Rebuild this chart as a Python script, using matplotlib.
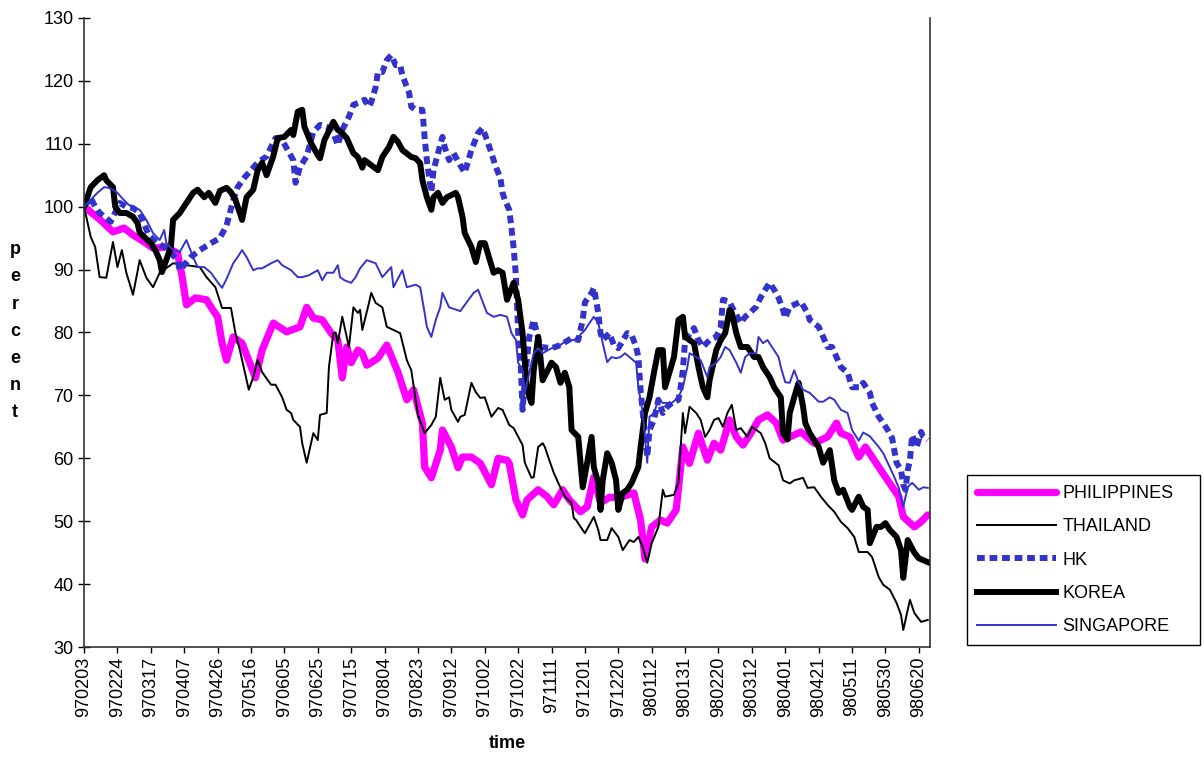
import matplotlib
matplotlib.use("Agg")
import matplotlib.pyplot as plt

plt.rcParams['font.family'] = ['Liberation Sans', 'DejaVu Sans']

# trading-day labels, one every 15 observations
TICK_LABELS = ["970203", "970224", "970317", "970407", "970426", "970516",
               "970605", "970625", "970715", "970804", "970823", "970912",
               "971002", "971022", "971111", "971201", "971220", "980112",
               "980131", "980220", "980312", "980401", "980421", "980511",
               "980530", "980620"]
N_DAYS = 381

# index levels (start = 100), observation number -> percent
PHIL_DAYS = [0, 7, 13, 18, 22, 27, 31, 37, 42, 44, 46, 50, 55, 58, 60, 62, 64, 67, 71, 77,
             80, 85, 91, 97, 100, 103, 107, 111, 114, 116, 118, 120, 123, 125, 127, 132, 136, 141, 145, 148,
             152, 153, 156, 160, 161, 165, 168, 170, 174, 178, 183, 186, 190, 191, 194, 197, 199, 204, 208, 211,
             215, 218, 223, 226, 229, 232, 236, 241, 247, 250, 252, 255, 259, 262, 266, 269, 272, 276, 280, 283,
             286, 290, 293, 296, 299, 303, 307, 311, 314, 322, 328, 334, 338, 340, 344, 348, 351, 357, 361, 366,
             368, 373, 376, 379]
PHIL_VALS = [100, 98, 96, 96.6, 95.5, 94.4, 93.4, 93.6, 92.6, 89, 84.4, 85.5, 85.2, 83.5, 82.5, 78.3, 75.6, 79.3, 78.3, 72.8,
             77.2, 81.5, 80.1, 80.9, 84, 82.3, 82, 79.9, 78.8, 72.8, 77.7, 75.2, 77.2, 76.7, 74.8, 75.9, 78, 73.7, 69.3, 70.9,
             65.6, 58.6, 56.9, 61.3, 64.5, 61.8, 58.5, 60.2, 60.2, 59.2, 55.8, 60, 59.7, 59.2, 53.4, 51, 53.4, 55, 53.9, 52.6,
             55, 53.4, 51.5, 52.3, 57, 52.9, 53.8, 53.8, 54.5, 50.2, 44, 49.1, 50.2, 49.7, 51.8, 61.8, 59.2, 64, 59.7, 62.4,
             61.3, 66.1, 63.4, 62.1, 63.7, 66.1, 66.9, 65.6, 62.9, 64.2, 62.4, 63.4, 65.6, 64, 63.4, 60.2, 61.8, 58.6, 56.5, 53.9,
             50.7, 49.1, 49.9, 51]

THAI_DAYS = [0, 3, 5, 7, 10, 13, 15, 17, 19, 22, 25, 28, 31, 34, 40, 46, 52, 55, 59, 62,
             66, 68, 70, 71, 74, 76, 78, 80, 84, 86, 89, 91, 93, 94, 97, 98, 100, 103, 105, 106,
             109, 110, 112, 113, 114, 116, 119, 121, 123, 124, 125, 128, 129, 131, 134, 136, 139, 142, 145, 147,
             149, 150, 153, 156, 158, 160, 162, 164, 165, 168, 169, 171, 174, 176, 178, 180, 183, 186, 188, 191,
             193, 197, 198, 201, 202, 204, 206, 207, 209, 211, 213, 216, 219, 220, 221, 224, 225, 229, 231, 232,
             235, 237, 240, 242, 245, 247, 249, 251, 253, 255, 258, 260, 261, 265, 267, 269, 270, 272, 275, 277,
             279, 281, 283, 285, 287, 289, 291, 293, 295, 298, 300, 302, 304, 306, 308, 312, 314, 317, 319, 323,
             325, 328, 331, 334, 337, 340, 343, 346, 348, 352, 354, 357, 359, 362, 365, 367, 368, 371, 373, 376,
             379]
THAI_VALS = [100, 95.2, 93.6, 88.8, 88.7, 94.4, 90.4, 93.1, 89.5, 86, 91.5, 88.7, 87.2, 89.5, 91, 90.7, 90.4, 88.8, 87.2, 83.9,
             83.9, 79.9, 77.2, 75.6, 70.9, 72.9, 75.6, 73.7, 71.7, 71.7, 69.7, 67.7, 67.2, 66.1, 65, 62.4, 59.3, 64, 62.9, 66.9,
             67.2, 74.5, 79.9, 80, 78.3, 82.5, 77.7, 84, 83.1, 83.6, 80.4, 84.7, 86.3, 84.7, 84, 80.9, 80.4, 79.9, 75.6, 74,
             69.3, 66.9, 64, 65.3, 66.6, 72.8, 69.3, 69.7, 67.7, 65.8, 66.6, 66.9, 72, 70.5, 69.6, 69.7, 66.6, 68, 67.7, 65.3,
             64.8, 62.1, 59.3, 56.9, 57, 61.8, 62.4, 61.8, 59.7, 57.7, 56.1, 53.9, 52.9, 50.5, 50.2, 48.6, 48.1, 50.7, 48.6, 47,
             47, 48.9, 47.5, 45.4, 47, 46.7, 47.5, 45.9, 43.4, 46.5, 49.1, 55, 53.9, 54.2, 56.1, 67.2, 64, 68.2, 67.2, 66.1,
             63.4, 64.5, 66.1, 66.4, 65, 67.2, 68.5, 64.5, 64.8, 63.4, 65, 64.5, 64, 62.4, 60, 58.9, 56.5, 56, 56.5, 56.9,
             55.3, 55.4, 53.9, 52.6, 51.5, 49.9, 48.9, 47.5, 45.1, 45.1, 44.3, 41.1, 39.9, 39.1, 37, 35.1, 32.7, 37.5, 35.4, 34,
             34.3]

HK_DAYS = [0, 3, 5, 7, 12, 16, 19, 22, 25, 29, 33, 37, 42, 43, 48, 52, 58, 61, 64, 67,
           69, 72, 76, 78, 82, 86, 89, 91, 94, 95, 97, 100, 102, 103, 106, 109, 112, 114, 116, 119,
           121, 124, 126, 128, 129, 131, 132, 134, 136, 138, 140, 142, 143, 146, 147, 149, 152, 153, 154, 155,
           156, 157, 159, 161, 162, 164, 166, 169, 171, 174, 177, 179, 181, 183, 185, 187, 188, 189, 191, 192,
           193, 194, 195, 196, 197, 198, 200, 202, 205, 210, 214, 219, 222, 224, 225, 228, 229, 230, 231, 232,
           233, 236, 238, 240, 244, 246, 248, 249, 250, 251, 253, 254, 256, 258, 260, 262, 264, 267, 268, 269,
           270, 274, 276, 278, 281, 284, 286, 287, 290, 291, 295, 297, 299, 302, 304, 306, 308, 310, 312, 314,
           315, 317, 322, 325, 326, 330, 332, 334, 336, 338, 340, 343, 345, 349, 350, 353, 354, 357, 359, 361,
           363, 365, 367, 368, 369, 370, 371, 372, 374, 376, 377, 379]
HK_VALS = [100, 101.4, 100, 99, 97.6, 100.6, 100, 99.8, 99, 95.5, 94.2, 93.4, 91.5, 89.9, 92, 93.1, 94.4, 95, 97, 101,
           103.1, 104.6, 106.2, 107, 108, 110.9, 110.6, 109.3, 107.4, 103.8, 106.3, 108, 110.6, 111.9, 113, 112.7, 111.7, 109.8, 112.2, 114.3,
           116.2, 116.6, 117, 115.9, 116.6, 119, 121.4, 121.4, 123.3, 124.1, 122.5, 122.5, 120.9, 118.1, 115.9, 115.4, 115.4, 111, 107.4, 104.7,
           102.3, 105.8, 108.5, 111.1, 109.5, 107.4, 108.5, 106.6, 105.4, 109, 111.7, 112.5, 110.6, 108.5, 106.3, 104.6, 102.2, 101.1, 99.5, 96.6,
           93.4, 89, 80, 76.1, 67.7, 72.4, 79.3, 82, 77.7, 77.5, 78, 79.1, 78.8, 82, 84.8, 86.3, 87.1, 85.2, 83.1, 79.9,
           78.8, 79.9, 78, 77.5, 79.9, 79.6, 77.7, 76.1, 70.9, 67.2, 60.2, 64.5, 66.1, 69.3, 67.2, 68.2, 68.8, 69.3, 71.3, 74,
           78.8, 80.7, 78.8, 77.7, 78.8, 79.3, 80.9, 85.2, 84.9, 84.1, 81.5, 82.5, 83.1, 84.1, 85.6, 86.8, 87.9, 86.8, 85.5, 83.6,
           82.3, 84.1, 84.9, 83.1, 82, 80.9, 79.3, 77.7, 77.7, 76.1, 74.5, 73.6, 71.3, 71.3, 72, 70.4, 68.8, 66.6, 65.6, 64.5,
           63.2, 59.3, 58.1, 55.8, 55, 58.1, 59.7, 63.7, 61.8, 64.2, 63.4, 62.9]

KOREA_DAYS = [0, 3, 6, 9, 10, 13, 14, 15, 16, 19, 22, 24, 25, 27, 30, 32, 34, 35, 39, 40,
              43, 46, 49, 51, 54, 56, 59, 61, 64, 66, 68, 71, 73, 76, 78, 80, 82, 85, 87, 90,
              93, 94, 96, 98, 99, 102, 105, 106, 108, 112, 114, 116, 118, 121, 123, 125, 126, 129, 132, 134,
              137, 139, 141, 143, 147, 149, 151, 152, 154, 156, 157, 159, 161, 163, 167, 168, 170, 171, 174, 176,
              178, 180, 184, 186, 188, 190, 193, 195, 196, 197, 199, 201, 202, 204, 205, 206, 210, 212, 214, 216,
              218, 219, 222, 223, 224, 226, 228, 229, 231, 232, 233, 235, 237, 239, 240, 242, 244, 246, 249, 250,
              252, 254, 256, 258, 260, 261, 265, 267, 269, 270, 272, 274, 276, 278, 280, 281, 284, 286, 288, 290,
              291, 293, 295, 298, 301, 303, 305, 308, 310, 313, 314, 316, 317, 320, 321, 323, 324, 326, 330, 332,
              335, 337, 339, 341, 344, 345, 348, 350, 352, 353, 356, 358, 360, 362, 365, 367, 368, 370, 373, 375,
              377, 379]
KOREA_VALS = [100, 103.1, 104.2, 105, 104.2, 103.1, 100, 99.5, 99, 99, 98.4, 97.4, 95.9, 95.2, 94.2, 93.1, 91.5, 89.6, 93.6, 97.9,
              99, 100.6, 102.2, 102.7, 101.5, 102.2, 100.6, 102.5, 103, 102.3, 101.1, 97.9, 101.5, 102.7, 105.8, 107, 105, 108, 110.9, 111.1,
              112.2, 111.4, 115.1, 115.4, 112.7, 110.1, 108.2, 107.7, 110.6, 113.5, 112.2, 111.7, 110.9, 108.5, 107.9, 106.2, 107.4, 106.6, 105.8, 107.9,
              109.5, 111.1, 110.3, 109, 107.9, 107.7, 106.9, 104.2, 101.5, 99.5, 101.5, 102.2, 100.6, 101.5, 102.2, 101.5, 98.4, 95.8, 93.6, 91.2,
              94.2, 94.2, 89.5, 89.9, 89.5, 85.2, 87.9, 85.2, 82.5, 79.9, 70.9, 68.8, 74, 79.3, 76.1, 72.4, 75.2, 74.5, 72, 73.6,
              71.3, 64.5, 63.4, 59.3, 55.4, 59.3, 63.4, 58.6, 56.1, 51.8, 56.5, 60.8, 59.3, 56.5, 51.8, 54.5, 55, 56.1, 58.6, 61.8,
              67.2, 69.7, 73.6, 77.2, 77.2, 71.3, 76.1, 82, 82.5, 79.3, 78.8, 78.3, 74.5, 71.3, 69.7, 72.4, 77.2, 78.8, 79.9, 83.6,
              83.1, 79.9, 77.7, 77.7, 76.1, 76.1, 74.5, 72.9, 71.3, 69.7, 64, 63, 67.2, 70.9, 72, 68.2, 65.6, 64, 61.8, 59.3,
              61.3, 56.5, 54.5, 55, 52.3, 51.8, 53.9, 52.3, 51.8, 46.5, 49.1, 49.1, 49.7, 48.6, 47.5, 45.4, 41, 47, 45, 44.1,
              43.8, 43.5]

SING_DAYS = [0, 3, 6, 9, 11, 13, 15, 17, 20, 23, 25, 28, 31, 34, 36, 37, 40, 43, 46, 49,
             51, 54, 57, 60, 62, 64, 67, 69, 71, 73, 76, 78, 80, 84, 87, 89, 93, 96, 98, 101,
             103, 105, 107, 109, 112, 114, 115, 117, 120, 122, 124, 127, 131, 134, 138, 139, 143, 145, 149, 151,
             152, 153, 154, 156, 158, 160, 161, 164, 169, 175, 177, 181, 184, 187, 190, 192, 194, 195, 197, 198,
             200, 202, 204, 206, 210, 213, 215, 218, 220, 222, 225, 228, 229, 231, 232, 233, 235, 237, 239, 241,
             243, 245, 248, 249, 251, 253, 254, 256, 258, 260, 264, 267, 269, 271, 272, 275, 277, 280, 281, 284,
             286, 288, 290, 293, 295, 297, 299, 302, 303, 305, 307, 309, 312, 313, 315, 317, 319, 321, 323, 326,
             330, 332, 335, 337, 340, 343, 345, 348, 350, 353, 357, 359, 361, 364, 366, 368, 370, 372, 375, 377,
             379]
SING_VALS = [100, 101.1, 102.2, 103.1, 103, 102.7, 102.2, 101.4, 100.3, 99.8, 99.5, 97.9, 95.8, 94.7, 96.3, 94.2, 93.1, 92.8, 94.7, 92,
             90.4, 90.4, 89.5, 88, 87.1, 88.5, 91, 92, 93.1, 92, 89.9, 90.2, 90.2, 91, 91.5, 90.7, 89.9, 88.8, 88.8, 89.1,
             89.5, 89.9, 88.3, 89.5, 89.5, 90.7, 88.8, 88.3, 87.9, 88.8, 90.2, 91.5, 91, 88.8, 90.4, 87.2, 89.9, 87.2, 87.6, 87.2,
             85.2, 83.1, 80.9, 79.3, 82, 84, 86.3, 84, 83.4, 86.3, 86.8, 83.1, 82.5, 82.8, 82.5, 79.9, 78.8, 75.2, 74, 70.4,
             73.6, 76.7, 77.5, 76.7, 77.5, 77.7, 78.3, 78.8, 78.8, 79.3, 80.4, 82, 82.5, 81.5, 79.9, 78.3, 75.3, 76.1, 75.9, 76.1,
             76.7, 76.1, 75.2, 71.3, 67.2, 59.3, 66.6, 67.2, 69.3, 68.8, 68.8, 69.7, 71.3, 74.5, 76.7, 76.1, 75.6, 72.9, 74.5, 75.2,
             76.1, 77.7, 77.2, 75.2, 73.6, 76.1, 76.7, 76.7, 79.3, 78.3, 78.8, 77.7, 76.1, 74.5, 72.1, 72, 74, 72.1, 70.9, 70.4,
             69, 69, 69.7, 69.3, 67.7, 67.2, 64.5, 62.8, 64.1, 63.5, 61.8, 60.8, 59.3, 57, 55.3, 52.3, 55.4, 56.1, 55, 55.4,
             55.3]

BLUE = "#3333CC"

fig = plt.figure(figsize=(12.04, 7.58), dpi=100)
ax = fig.add_axes([0.0698, 0.1464, 0.7026, 0.8299])

ax.plot(PHIL_DAYS, PHIL_VALS, color="#FF00FF", lw=5.2, label="PHILIPPINES",
        solid_joinstyle="round", solid_capstyle="round")
ax.plot(THAI_DAYS, THAI_VALS, color="black", lw=1.4, label="THAILAND")
ax.plot(HK_DAYS, HK_VALS, color=BLUE, lw=4.3, linestyle=(0, (1.3, 0.8)),
        dash_capstyle="butt", label="HK")
ax.plot(KOREA_DAYS, KOREA_VALS, color="black", lw=4.3, label="KOREA",
        solid_joinstyle="round")
ax.plot(SING_DAYS, SING_VALS, color=BLUE, lw=1.4, label="SINGAPORE")

ax.set_xlim(0, N_DAYS - 1)
ax.set_ylim(30, 130)
ax.set_yticks(range(30, 131, 10))
ax.set_xticks(range(0, 15 * len(TICK_LABELS), 15))
ax.set_xticklabels(TICK_LABELS, rotation=90)

ax.tick_params(axis="y", direction="inout", length=9, width=1, labelsize=13, pad=3)
ax.tick_params(axis="x", direction="out", length=4, width=1, labelsize=13, pad=3)

for side in ("left", "bottom", "right"):
    ax.spines[side].set_color("#333333")
    ax.spines[side].set_linewidth(1.2)
ax.spines["top"].set_visible(False)

# axis titles
fig.text(0.4211, 0.0185, "time", ha="center", va="center",
         fontsize=13, fontweight="bold")
fig.text(0.0125, 0.563, "\n".join("percent"), ha="center", va="center",
         fontsize=13, fontweight="bold", linespacing=1.78)

leg = fig.legend(loc="lower left", bbox_to_anchor=(0.803, 0.149, 0.194, 0.224),
                 mode="expand", borderaxespad=0, fontsize=13, handlelength=4.4,
                 handletextpad=0.35, labelspacing=0.9, borderpad=0.55,
                 fancybox=False, edgecolor="black", framealpha=1)
leg.get_frame().set_linewidth(1.0)

fig.savefig("out.png", dpi=100)
